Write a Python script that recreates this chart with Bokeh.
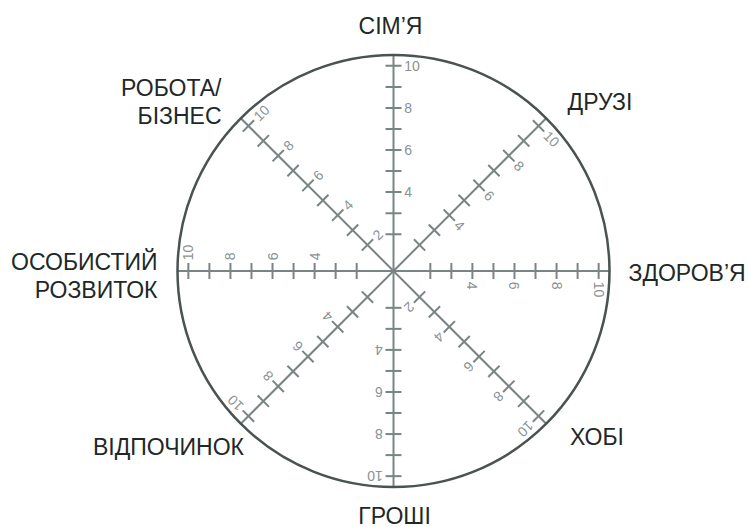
import math
from bokeh.plotting import figure
from bokeh.models import Range1d
from bokeh.core.properties import value
from bokeh.embed import file_html
from bokeh.resources import INLINE

# ---- data ----
categories = ["СІМ’Я", "ДРУЗІ", "ЗДОРОВ’Я", "ХОБІ", "ГРОШІ", "ВІДПОЧИНОК",
              "ОСОБИСТИЙ\nРОЗВИТОК", "РОБОТА/\nБІЗНЕС"]
tick_values = [2, 3, 4, 5, 6, 7, 8, 9, 10]
label_values = [2, 4, 6, 8, 10]
tick_labels = ["2", "4", "6", "8", "10"]
# whether the "2" label is shown on each spoke
show_two = [False, False, False, True, False, False, False, True]
scale_max = 10

# ---- layout ----
W, H = 749, 527
U = 21.04                 # px per value unit
CX, CY = 393.0, 270.5     # wheel centre in figure px (from top-left)
V0 = 0.25                 # value offset at the centre
R_CIRCLE = 216.0 / U
TICK_HALF = 8.0 / U
LABEL_GAP = 10.7 / U
LINE_GAP = 28.0 / U

# category label anchors: (dx px, dy px, align)
cat_layout = [
    (-3, 245, "center"),
    (206.5, 169.5, "center"),
    (235, -1.5, "left"),
    (203.5, -165.5, "center"),
    (1, -244.5, "center"),
    (-225, -175.5, "center"),
    (-236, -4.5, "right"),
    (-172, 168.75, "right"),
]

AXIS_COLOR = "#7b8484"
TICKLABEL_COLOR = "#8a9292"
CIRCLE_COLOR = "#4a5252"
TEXT_COLOR = "#1e2828"
FONT = value("Liberation Sans")

p = figure(width=W, height=H,
           x_range=Range1d(-CX / U, (W - CX) / U),
           y_range=Range1d(-(H - CY) / U, CY / U),
           output_backend="svg", toolbar_location=None,
           min_border=0, min_border_left=0, min_border_right=0,
           min_border_top=0, min_border_bottom=0)
p.axis.visible = False
p.grid.visible = False
p.outline_line_color = None
p.background_fill_color = "white"

n = len(categories)
ax_x0, ax_y0, ax_x1, ax_y1 = [], [], [], []
tk_x0, tk_y0, tk_x1, tk_y1 = [], [], [], []
lb_x, lb_y, lb_t, lb_a = [], [], [], []
for k in range(n):
    th = math.pi / 2 - k * math.pi / 4
    ux, uy = math.cos(th), math.sin(th)
    px, py = math.sin(th), -math.cos(th)   # right-hand perpendicular
    ax_x0.append(0); ax_y0.append(0)
    ax_x1.append(R_CIRCLE * ux); ax_y1.append(R_CIRCLE * uy)
    for v in tick_values:
        r = v - V0
        tk_x0.append(r * ux - TICK_HALF * px); tk_y0.append(r * uy - TICK_HALF * py)
        tk_x1.append(r * ux + TICK_HALF * px); tk_y1.append(r * uy + TICK_HALF * py)
    for v, t in zip(label_values, tick_labels):
        if v == 2 and not show_two[k]:
            continue
        r = v - V0
        lb_x.append(r * ux + LABEL_GAP * px)
        lb_y.append(r * uy + LABEL_GAP * py)
        lb_t.append(t)
        lb_a.append(th - math.pi / 2)

p.segment(x0=ax_x0, y0=ax_y0, x1=ax_x1, y1=ax_y1, line_color=AXIS_COLOR, line_width=2)
p.segment(x0=tk_x0, y0=tk_y0, x1=tk_x1, y1=tk_y1, line_color=AXIS_COLOR, line_width=2)
p.circle(x=[0], y=[0], radius=R_CIRCLE, fill_color=None, line_color=CIRCLE_COLOR,
         line_width=2.5)
p.text(x=lb_x, y=lb_y, text=lb_t, angle=lb_a, text_align="left",
       text_baseline="middle", text_font=FONT, text_font_size="14px",
       text_color=TICKLABEL_COLOR)

for name, (dx, dy, align) in zip(categories, cat_layout):
    lines = name.split("\n")
    m = len(lines)
    xs = [dx / U] * m
    ys = [dy / U + ((m - 1) / 2 - i) * LINE_GAP for i in range(m)]
    p.text(x=xs, y=ys, text=lines, text_align=align, text_baseline="middle",
           text_font=FONT, text_font_size="23px", text_color=TEXT_COLOR)

open("out.html", "w").write(file_html(p, INLINE))
